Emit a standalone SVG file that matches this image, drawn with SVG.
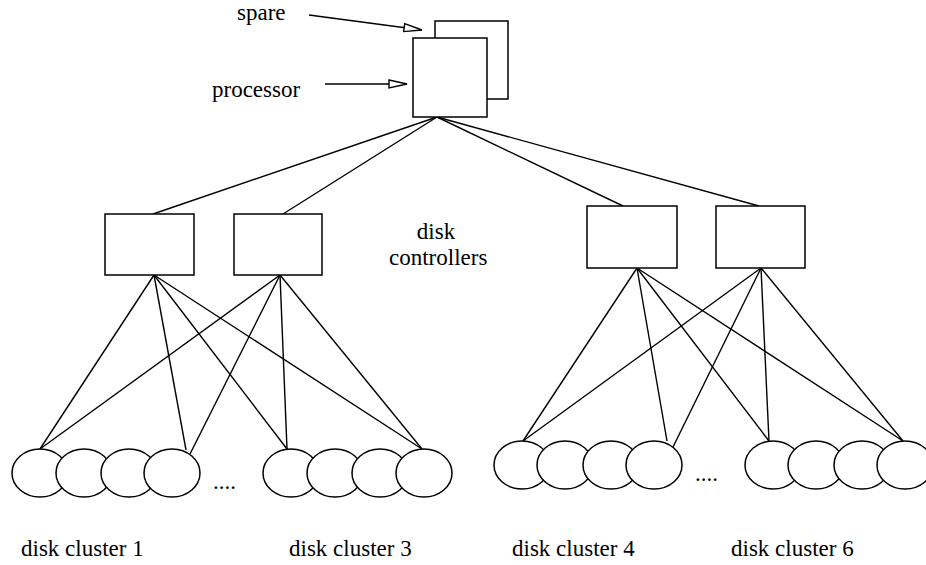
<svg xmlns="http://www.w3.org/2000/svg" width="926" height="565" viewBox="0 0 926 565">
<style>
.box{fill:#fff;stroke:#000;stroke-width:1.5}
.disk{fill:#fff;stroke:#000;stroke-width:1.5}
.ln{fill:none;stroke:#000;stroke-width:1.4}
text{font-family:"Liberation Serif","Times New Roman",serif;font-size:23px;fill:#000}
</style>
<defs>
<marker id="ah" markerUnits="userSpaceOnUse" markerWidth="22" markerHeight="12" refX="19" refY="5.5" orient="auto">
<path d="M1,1.5 L19,5.5 L1,9.5 Z" fill="#fff" stroke="#000" stroke-width="1.4"/>
</marker>
</defs>
<rect width="926" height="565" fill="#fff"/>
<g id="connectors">
<line class="ln" x1="309" y1="15" x2="422" y2="30" marker-end="url(#ah)"/>
<line class="ln" x1="325" y1="84" x2="407" y2="84" marker-end="url(#ah)"/>
<line class="ln" x1="437" y1="117" x2="153" y2="214"/>
<line class="ln" x1="437" y1="117" x2="283" y2="214"/>
<line class="ln" x1="437" y1="117" x2="623" y2="206"/>
<line class="ln" x1="437" y1="117" x2="759" y2="206"/>
<line class="ln" x1="154" y1="275" x2="40" y2="449"/>
<line class="ln" x1="154" y1="275" x2="186" y2="450"/>
<line class="ln" x1="154" y1="275" x2="287" y2="449"/>
<line class="ln" x1="154" y1="275" x2="422" y2="449"/>
<line class="ln" x1="280" y1="275" x2="40" y2="449"/>
<line class="ln" x1="280" y1="275" x2="190" y2="454"/>
<line class="ln" x1="280" y1="275" x2="287" y2="449"/>
<line class="ln" x1="280" y1="275" x2="422" y2="449"/>
<line class="ln" x1="637" y1="268" x2="523" y2="441"/>
<line class="ln" x1="637" y1="268" x2="667" y2="441"/>
<line class="ln" x1="637" y1="268" x2="769" y2="441"/>
<line class="ln" x1="637" y1="268" x2="903" y2="441"/>
<line class="ln" x1="761" y1="268" x2="523" y2="441"/>
<line class="ln" x1="761" y1="268" x2="673" y2="447"/>
<line class="ln" x1="761" y1="268" x2="769" y2="441"/>
<line class="ln" x1="761" y1="268" x2="903" y2="441"/>
</g>
<g id="spare"><rect class="box" x="435" y="21" width="73" height="78"/></g>
<g id="processor"><rect class="box" x="413" y="38" width="74" height="79"/></g>
<g id="label-spare"><text x="237" y="20">spare</text></g>
<g id="label-processor"><text x="212" y="97">processor</text></g>
<g id="controller1"><rect class="box" x="105" y="214" width="89" height="61"/></g>
<g id="controller2"><rect class="box" x="234" y="214" width="88" height="61"/></g>
<g id="controller3"><rect class="box" x="587" y="206" width="90" height="62"/></g>
<g id="controller4"><rect class="box" x="716" y="206" width="89" height="62"/></g>
<g id="label-controllers"><text x="436" y="239" text-anchor="middle">disk</text><text x="389" y="265">controllers</text></g>
<g id="cluster1">
<ellipse class="disk" cx="40" cy="473" rx="28" ry="24"/>
<ellipse class="disk" cx="84" cy="473" rx="28" ry="24"/>
<ellipse class="disk" cx="129" cy="473" rx="28" ry="24"/>
<ellipse class="disk" cx="172" cy="473" rx="28" ry="24"/>
</g>
<g id="dots1"><text x="213" y="489">....</text></g>
<g id="cluster3">
<ellipse class="disk" cx="291" cy="473" rx="28" ry="24"/>
<ellipse class="disk" cx="335" cy="473" rx="28" ry="24"/>
<ellipse class="disk" cx="380" cy="473" rx="28" ry="24"/>
<ellipse class="disk" cx="424" cy="473" rx="28" ry="24"/>
</g>
<g id="cluster4">
<ellipse class="disk" cx="522" cy="465" rx="28" ry="24"/>
<ellipse class="disk" cx="565" cy="465" rx="28" ry="24"/>
<ellipse class="disk" cx="611" cy="465" rx="28" ry="24"/>
<ellipse class="disk" cx="654" cy="465" rx="28" ry="24"/>
</g>
<g id="dots2"><text x="695" y="481">....</text></g>
<g id="cluster6">
<ellipse class="disk" cx="773" cy="465" rx="28" ry="24"/>
<ellipse class="disk" cx="816" cy="465" rx="28" ry="24"/>
<ellipse class="disk" cx="862" cy="465" rx="28" ry="24"/>
<ellipse class="disk" cx="905" cy="465" rx="28" ry="24"/>
</g>
<g id="labels-clusters">
<text x="21" y="556">disk cluster 1</text>
<text x="289" y="556">disk cluster 3</text>
<text x="512" y="556">disk cluster 4</text>
<text x="731" y="556">disk cluster 6</text>
</g>
</svg>
